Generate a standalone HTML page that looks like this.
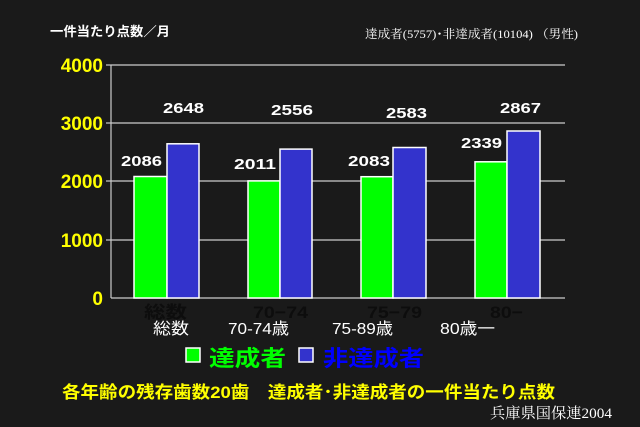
<!DOCTYPE html>
<html><head><meta charset="utf-8"><style>
html,body{margin:0;padding:0;background:#1a1a1a;}
svg{display:block;}
text{font-family:"Liberation Sans","Noto Sans CJK JP",sans-serif;}
.s{font-family:"Liberation Serif","Noto Serif CJK SC",serif;}
</style></head><body>
<svg width="640" height="427" viewBox="0 0 640 427" xmlns="http://www.w3.org/2000/svg">
<rect width="640" height="427" fill="#1a1a1a"/>
<text x="50" y="36" fill="#fff" font-size="13" font-weight="bold" textLength="120" lengthAdjust="spacingAndGlyphs">一件当たり点数／月</text>
<text x="365" y="38" fill="#fff" font-size="12" class="s" textLength="213" lengthAdjust="spacingAndGlyphs">達成者(5757)･非達成者(10104) （男性)</text>
<g stroke="#ccc" stroke-width="1.2">
<line x1="111" y1="65" x2="565" y2="65"/>
<line x1="111" y1="123" x2="565" y2="123"/>
<line x1="111" y1="181" x2="565" y2="181"/>
<line x1="111" y1="240" x2="565" y2="240"/>
<line x1="111" y1="65" x2="111" y2="298"/>
<line x1="111" y1="298" x2="565" y2="298"/>
<line x1="106" y1="65" x2="111" y2="65"/><line x1="106" y1="123" x2="111" y2="123"/><line x1="106" y1="181" x2="111" y2="181"/><line x1="106" y1="240" x2="111" y2="240"/>
</g>
<g fill="#ffff00" font-size="19" font-weight="bold" text-anchor="end">
<text x="103" y="72">4000</text><text x="103" y="130">3000</text><text x="103" y="188">2000</text><text x="103" y="247">1000</text><text x="103" y="305">0</text>
</g>
<g fill="#0d0d0d" font-size="17" font-weight="bold">
<text x="144" y="318" textLength="43" lengthAdjust="spacingAndGlyphs">総数</text>
<text x="253" y="318" textLength="55" lengthAdjust="spacingAndGlyphs">70−74</text>
<text x="367" y="318" textLength="55" lengthAdjust="spacingAndGlyphs">75−79</text>
<text x="490" y="318" textLength="33" lengthAdjust="spacingAndGlyphs">80−</text>
</g>
<g stroke="#fff" stroke-width="1.5">
<rect x="134" y="176.5" width="33" height="121.5" fill="#00ff00"/>
<rect x="167" y="143.8" width="32" height="154.2" fill="#3333cc"/>
<rect x="248" y="180.9" width="32" height="117.1" fill="#00ff00"/>
<rect x="280" y="149.1" width="32" height="148.9" fill="#3333cc"/>
<rect x="361" y="176.7" width="32" height="121.3" fill="#00ff00"/>
<rect x="393" y="147.5" width="33" height="150.5" fill="#3333cc"/>
<rect x="475" y="161.8" width="32" height="136.2" fill="#00ff00"/>
<rect x="507" y="131" width="33" height="167" fill="#3333cc"/>
</g>
<g fill="#fff" font-size="15" font-weight="bold">
<text x="121" y="166" textLength="41" lengthAdjust="spacingAndGlyphs">2086</text>
<text x="163" y="113" textLength="41" lengthAdjust="spacingAndGlyphs">2648</text>
<text x="234" y="169" textLength="42" lengthAdjust="spacingAndGlyphs">2011</text>
<text x="271" y="115" textLength="42" lengthAdjust="spacingAndGlyphs">2556</text>
<text x="348" y="166" textLength="42" lengthAdjust="spacingAndGlyphs">2083</text>
<text x="386" y="118" textLength="41" lengthAdjust="spacingAndGlyphs">2583</text>
<text x="461" y="148" textLength="41" lengthAdjust="spacingAndGlyphs">2339</text>
<text x="500" y="113" textLength="41" lengthAdjust="spacingAndGlyphs">2867</text>
</g>
<g fill="#fff" font-size="16" class="s">
<text x="153" y="334" textLength="36" lengthAdjust="spacingAndGlyphs">総数</text>
<text x="228" y="334" textLength="61" lengthAdjust="spacingAndGlyphs">70-74歳</text>
<text x="332" y="334" textLength="61" lengthAdjust="spacingAndGlyphs">75-89歳</text>
<text x="440" y="334" textLength="55" lengthAdjust="spacingAndGlyphs">80歳一</text>
</g>
<rect x="186" y="348" width="14" height="14" fill="#00ff00" stroke="#fff" stroke-width="1.5"/>
<text x="209" y="366" fill="#00ff00" font-size="22" font-weight="bold" textLength="77" lengthAdjust="spacingAndGlyphs">達成者</text>
<rect x="299" y="348" width="14" height="14" fill="#3333cc" stroke="#fff" stroke-width="1.5"/>
<text x="323" y="366" fill="#0000ff" font-size="22" font-weight="bold" textLength="101" lengthAdjust="spacingAndGlyphs">非達成者</text>
<text x="62" y="398" fill="#ffff00" font-size="17" font-weight="bold" textLength="493" lengthAdjust="spacingAndGlyphs">各年齢の残存歯数20歯　達成者･非達成者の一件当たり点数</text>
<text x="490" y="418" fill="#fff" font-size="15" class="s" textLength="122" lengthAdjust="spacingAndGlyphs">兵庫県国保連2004</text>
</svg>
</body></html>
